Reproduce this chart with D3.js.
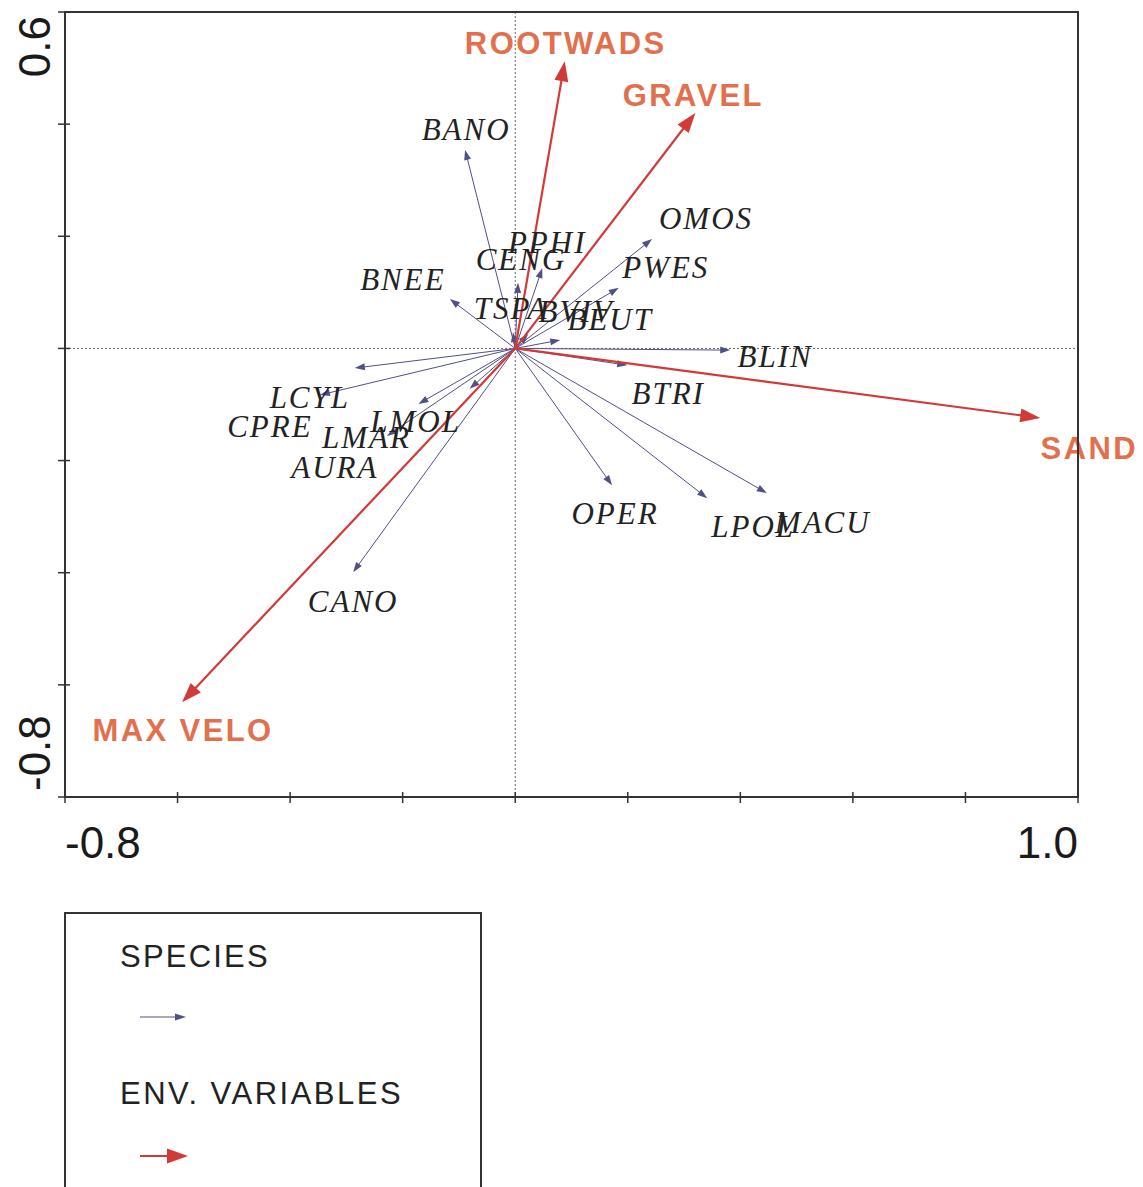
<!DOCTYPE html>
<html>
<head>
<meta charset="utf-8">
<script src="https://cdn.jsdelivr.net/npm/d3@7"></script>
<style>
  html, body { margin: 0; padding: 0; background: #fff; }
  svg { display: block; }
</style>
</head>
<body>
<div id="chart"></div>
<script>
// Species scores on the first two ordination axes
const speciesNames = ["BANO","PPHI","CENG","OMOS","PWES","BNEE","TSPA","BVIV","BEUT","BLIN",
                      "BTRI","OPER","LPOL","MACU","CANO","LCYL","CPRE","LMOL","LMAR","AURA"];
const speciesAxis1 = [-0.089, 0.048, 0.005, 0.243, 0.184, -0.116, -0.004, 0.023, 0.080, 0.382,
                       0.199, 0.172, 0.341, 0.447, -0.288, -0.285, -0.347, -0.081, -0.172, -0.228];
const speciesAxis2 = [0.354, 0.143, 0.117, 0.195, 0.108, 0.088, 0.029, 0.026, 0.015, -0.003,
                      -0.030, -0.244, -0.267, -0.258, -0.399, -0.035, -0.083, -0.072, -0.099, -0.156];

// Environmental variable biplot scores
const envNames = ["ROOTWADS","GRAVEL","SAND","MAX VELO"];
const envAxis1 = [0.088, 0.320, 0.933, -0.592];
const envAxis2 = [0.512, 0.420, -0.124, -0.631];

// Axis ranges and the tick values shown
const xDomain = [-0.8, 1.0];
const yDomain = [-0.8, 0.6];
const xTickValues = [-0.8,-0.6,-0.4,-0.2,0,0.2,0.4,0.6,0.8,1.0];
const yTickValues = [-0.8,-0.6,-0.4,-0.2,0,0.2,0.4,0.6];
const xTickLabels = ["-0.8","1.0"];
const yTickLabels = ["-0.8","0.6"];

// Label placement (pixel offset from arrow tip: centre x, baseline y)
const speciesLabelOffset = {
  BANO:[0,-10], PPHI:[4,-15], CENG:[2,-13], OMOS:[53,-10], PWES:[46,-10],
  BNEE:[-48,-9], TSPA:[-3,-13], BVIV:[47,-12], BEUT:[49,-10], BLIN:[44,17],
  BTRI:[40,39], OPER:[2,39], LPOL:[45,39], MACU:[55,40], CANO:[-1,40],
  LCYL:[-46,40], CPRE:[-51,42], LMOL:[-55,43], LMAR:[-53,44], AURA:[-53,42]
};
const envLabelOffset = {
  "ROOTWADS":[0,-7], "GRAVEL":[-3,-7], "SAND":[48,41], "MAX VELO":[0,39]
};

const W = 1143, H = 1187;
const plot = { left: 65, right: 1078, top: 12, bottom: 797 };

const speciesColor = "#505088";
const envColor = "#d23a38";
const envTextColor = "#e2704e";
const inkColor = "#222";

const svg = d3.select("#chart").append("svg")
  .attr("width", W).attr("height", H);

const x = d3.scaleLinear().domain(xDomain).range([plot.left, plot.right]);
const y = d3.scaleLinear().domain(yDomain).range([plot.bottom, plot.top]);

// Zero reference lines (dotted)
svg.append("line")
  .attr("x1", x(0)).attr("x2", x(0)).attr("y1", plot.top).attr("y2", plot.bottom)
  .attr("stroke", "#666").attr("stroke-width", 1).attr("stroke-dasharray", "2,2");
svg.append("line")
  .attr("x1", plot.left).attr("x2", plot.right).attr("y1", y(0)).attr("y2", y(0))
  .attr("stroke", "#666").attr("stroke-width", 1).attr("stroke-dasharray", "2,2");

// Arrow helper: shaft from origin to the base of a filled triangular head
function arrow(g, x0, y0, x1, y1, color, width, headLen, headHalf) {
  const dx = x1 - x0, dy = y1 - y0;
  const len = Math.hypot(dx, dy);
  const ux = dx / len, uy = dy / len;
  const bx = x1 - ux * headLen, by = y1 - uy * headLen;
  g.append("line")
    .attr("x1", x0).attr("y1", y0).attr("x2", bx + ux * 1).attr("y2", by + uy * 1)
    .attr("stroke", color).attr("stroke-width", width);
  const px = -uy, py = ux;
  g.append("path")
    .attr("d", `M${x1},${y1}L${bx + px * headHalf},${by + py * headHalf}L${bx - px * headHalf},${by - py * headHalf}Z`)
    .attr("fill", color);
}

// Species arrows
const gSp = svg.append("g");
speciesNames.forEach((name, i) => {
  arrow(gSp, x(0), y(0), x(speciesAxis1[i]), y(speciesAxis2[i]), speciesColor, 1, 10, 3.5);
});

// Environmental arrows
const gEnv = svg.append("g");
envNames.forEach((name, i) => {
  arrow(gEnv, x(0), y(0), x(envAxis1[i]), y(envAxis2[i]), envColor, 2.2, 20, 7);
});

// Species labels
const gSpLab = svg.append("g");
speciesNames.forEach((name, i) => {
  const off = speciesLabelOffset[name];
  gSpLab.append("text")
    .attr("x", x(speciesAxis1[i]) + off[0] + 1)
    .attr("y", y(speciesAxis2[i]) + off[1])
    .attr("text-anchor", "middle")
    .attr("font-family", "'Liberation Serif', 'Times New Roman', serif")
    .attr("font-style", "italic")
    .attr("font-size", 31)
    .attr("letter-spacing", 2)
    .attr("fill", inkColor)
    .text(name);
});

// Environmental labels
const gEnvLab = svg.append("g");
envNames.forEach((name, i) => {
  const off = envLabelOffset[name];
  gEnvLab.append("text")
    .attr("x", x(envAxis1[i]) + off[0] + 1)
    .attr("y", y(envAxis2[i]) + off[1])
    .attr("text-anchor", "middle")
    .attr("font-family", "'Liberation Sans', Arial, sans-serif")
    .attr("font-weight", "bold")
    .attr("font-size", 31)
    .attr("letter-spacing", 2.4)
    .attr("fill", envTextColor)
    .text(name);
});

// Frame
svg.append("rect")
  .attr("x", plot.left).attr("y", plot.top)
  .attr("width", plot.right - plot.left).attr("height", plot.bottom - plot.top)
  .attr("fill", "none").attr("stroke", "#333").attr("stroke-width", 2);

// Ticks crossing the bottom and left frame lines
svg.append("g").selectAll("line").data(xTickValues).join("line")
  .attr("x1", d => x(d)).attr("x2", d => x(d))
  .attr("y1", plot.bottom - 5).attr("y2", plot.bottom + 6)
  .attr("stroke", "#333").attr("stroke-width", 1.5);
svg.append("g").selectAll("line").data(yTickValues).join("line")
  .attr("y1", d => y(d)).attr("y2", d => y(d))
  .attr("x1", plot.left - 7).attr("x2", plot.left + 5)
  .attr("stroke", "#333").attr("stroke-width", 1.5);

// Axis end labels
const axisFont = "'Liberation Sans', Arial, sans-serif";
svg.append("text")
  .attr("x", x(xDomain[0])).attr("y", 858)
  .attr("text-anchor", "start")
  .attr("font-family", axisFont).attr("font-size", 44).attr("fill", "#1a1a1a")
  .text(xTickLabels[0]);
svg.append("text")
  .attr("x", x(xDomain[1])).attr("y", 858)
  .attr("text-anchor", "end")
  .attr("font-family", axisFont).attr("font-size", 44).attr("fill", "#1a1a1a")
  .text(xTickLabels[1]);
svg.append("text")
  .attr("transform", `translate(50,${y(yDomain[0]) - 6}) rotate(-90)`)
  .attr("text-anchor", "start")
  .attr("font-family", axisFont).attr("font-size", 44).attr("fill", "#1a1a1a")
  .text(yTickLabels[0]);
svg.append("text")
  .attr("transform", `translate(50,${y(yDomain[1]) + 4}) rotate(-90)`)
  .attr("text-anchor", "end")
  .attr("font-family", axisFont).attr("font-size", 44).attr("fill", "#1a1a1a")
  .text(yTickLabels[1]);

// Legend
const lg = svg.append("g");
lg.append("rect")
  .attr("x", 65).attr("y", 913).attr("width", 416).attr("height", 320)
  .attr("fill", "none").attr("stroke", "#333").attr("stroke-width", 2);
lg.append("text")
  .attr("x", 120).attr("y", 967)
  .attr("font-family", axisFont).attr("font-size", 31).attr("letter-spacing", 2.2)
  .attr("fill", inkColor).text("SPECIES");
arrow(lg, 140, 1017, 186, 1017, speciesColor, 1, 11, 3.5);
lg.append("text")
  .attr("x", 120).attr("y", 1104)
  .attr("font-family", axisFont).attr("font-size", 31).attr("letter-spacing", 2.5)
  .attr("fill", inkColor).text("ENV. VARIABLES");
arrow(lg, 140, 1156, 188, 1156, envColor, 2, 21, 7.5);
</script>
</body>
</html>
